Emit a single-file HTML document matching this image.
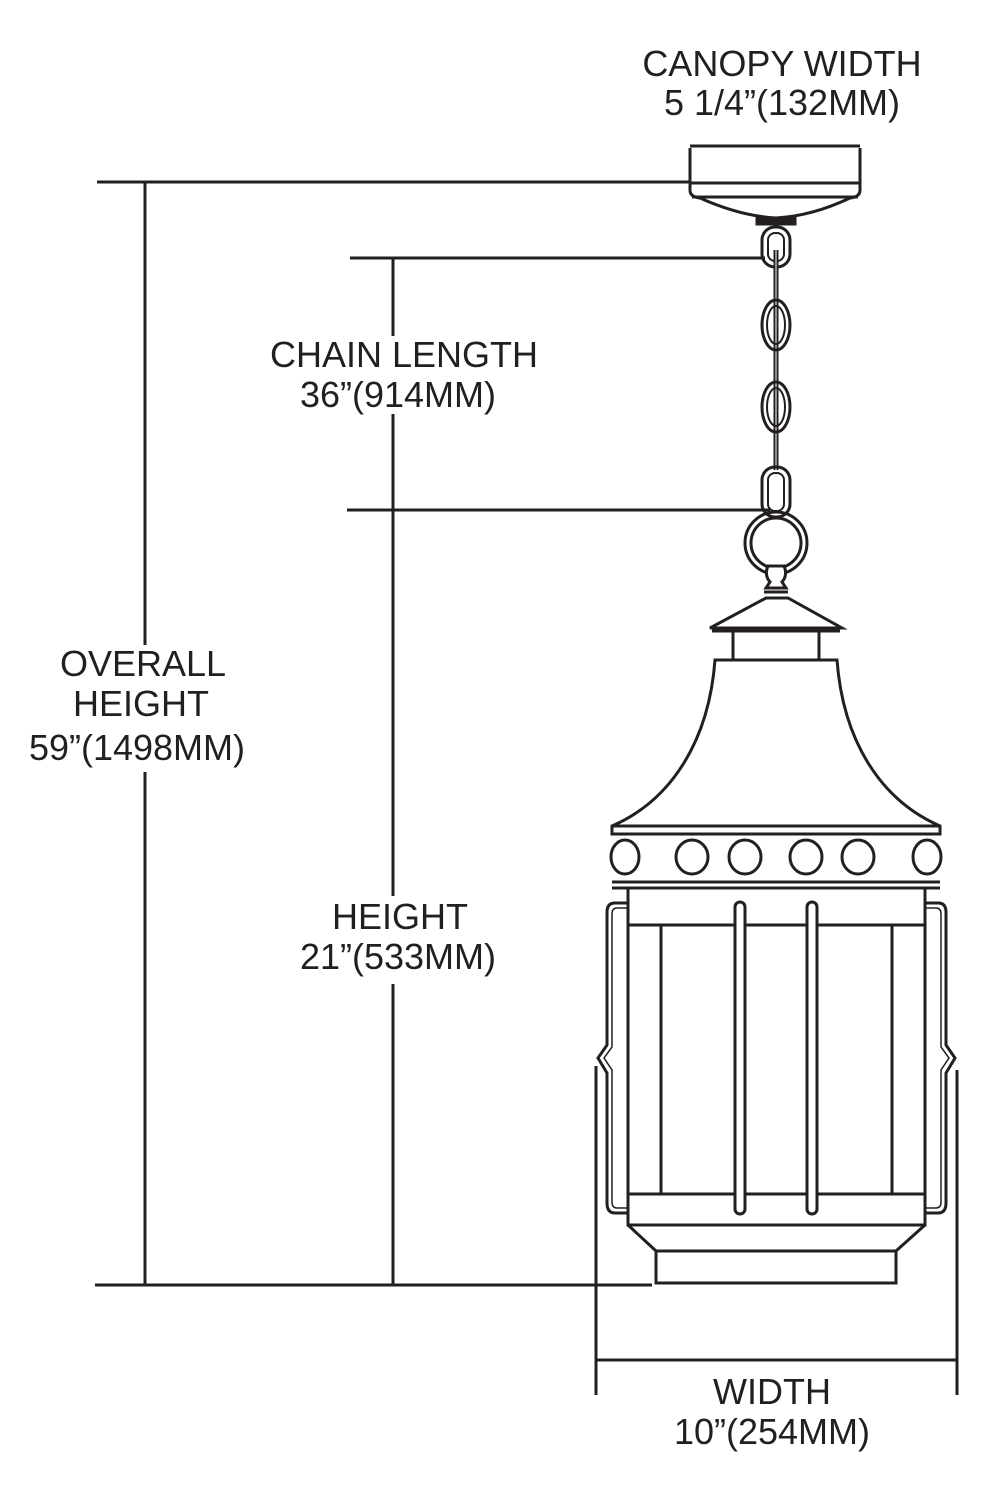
<!DOCTYPE html>
<html><head><meta charset="utf-8"><style>
html,body{margin:0;padding:0;background:#fff}
svg{display:block}
text{font-family:"Liberation Sans",sans-serif;font-size:36px;fill:#231f20;text-anchor:middle}
</style></head><body>
<svg width="990" height="1500" viewBox="0 0 990 1500" xmlns="http://www.w3.org/2000/svg">
<g stroke="#231f20" fill="none" stroke-width="3">
<line x1="97" y1="182" x2="690" y2="182"/>
<line x1="350" y1="258" x2="765" y2="258"/>
<line x1="347" y1="510" x2="770" y2="510"/>
<line x1="95" y1="1285" x2="652" y2="1285"/>
<line x1="145" y1="182" x2="145" y2="645"/>
<line x1="145" y1="772" x2="145" y2="1285"/>
<line x1="393" y1="258" x2="393" y2="336"/>
<line x1="393" y1="414" x2="393" y2="896"/>
<line x1="393" y1="984" x2="393" y2="1285"/>
<line x1="596" y1="1066" x2="596" y2="1395"/>
<line x1="957" y1="1070" x2="957" y2="1395"/>
<line x1="596" y1="1360" x2="957" y2="1360"/>
<!-- canopy -->
<path d="M690,148 V190 Q690,197 700,198 Q740,216 776,218 Q812,216 850,198 Q860,197 860,190 V148"/>
<line x1="690" y1="146" x2="860" y2="146"/>
<line x1="690" y1="183" x2="860" y2="183"/>
<line x1="692" y1="197" x2="858" y2="197"/>
<rect x="757" y="218" width="38" height="6" fill="#231f20"/>
<!-- chain -->
<rect x="762" y="227" width="28" height="40" rx="13"/>
<rect x="768" y="233" width="16" height="28" rx="7" stroke-width="2"/>
<line x1="776" y1="250" x2="776" y2="470" stroke-width="5"/>
<line x1="776" y1="250" x2="776" y2="470" stroke="#fff" stroke-width="1"/>
<ellipse cx="776" cy="325" rx="14" ry="25"/>
<ellipse cx="776" cy="325" rx="9" ry="19" stroke-width="2"/>
<ellipse cx="776" cy="407" rx="14" ry="25"/>
<ellipse cx="776" cy="407" rx="9" ry="19" stroke-width="2"/>
<rect x="762" y="467" width="28" height="50" rx="13"/>
<rect x="768" y="473" width="16" height="38" rx="7" stroke-width="2"/>
<circle cx="776" cy="543" r="31"/>
<circle cx="776" cy="543" r="25"/>
<path d="M768,566 Q764,575 770,582 L766,588 L786,588 L782,582 Q788,575 784,566 Z" fill="#fff"/>
<line x1="764" y1="592" x2="788" y2="592"/>
<path d="M766,598 L788,598 L842,628 L710,628 Z" fill="#fff"/>
<line x1="712" y1="631" x2="840" y2="631"/>
<line x1="733" y1="631" x2="733" y2="660"/>
<line x1="819" y1="631" x2="819" y2="660"/>
<path d="M715,660 L837,660 C843,740 880,800 940,826 L940,834 L612,834 L612,826 C672,800 709,740 715,660 Z" fill="#fff"/>
<line x1="612" y1="826" x2="940" y2="826"/>
<ellipse cx="692" cy="857" rx="16" ry="17"/>
<ellipse cx="745" cy="857" rx="16" ry="17"/>
<ellipse cx="806" cy="857" rx="16" ry="17"/>
<ellipse cx="858" cy="857" rx="16" ry="17"/>
<ellipse cx="625" cy="857" rx="14" ry="17"/>
<ellipse cx="927" cy="857" rx="14" ry="17"/>
<line x1="612" y1="882" x2="940" y2="882"/>
<line x1="612" y1="888" x2="940" y2="888"/>
<rect x="628" y="888" width="297" height="37"/>
<line x1="628" y1="925" x2="628" y2="1194"/>
<line x1="925" y1="925" x2="925" y2="1194"/>
<line x1="661" y1="925" x2="661" y2="1194"/>
<line x1="892" y1="925" x2="892" y2="1194"/>
<rect x="628" y="1194" width="297" height="31"/>
<path d="M628,1225 L656,1251 L896,1251 L925,1225"/>
<rect x="656" y="1251" width="240" height="32"/>
<rect x="735" y="902" width="10" height="312" rx="5" fill="#fff"/>
<rect x="807" y="902" width="10" height="312" rx="5" fill="#fff"/>
<path d="M628,903 L615,903 Q607,903 607,912 L607,1045 L598,1058 L607,1073 L607,1203 Q607,1213 615,1213 L628,1213"/>
<path d="M628,908 L617,908 Q612,908 612,914 L612,1047 L604,1058 L612,1070 L612,1202 Q612,1208 617,1208 L628,1208" stroke-width="1.5"/>
<path d="M925,903 L938,903 Q946,903 946,912 L946,1045 L955,1058 L946,1073 L946,1203 Q946,1213 938,1213 L925,1213"/>
<path d="M925,908 L936,908 Q941,908 941,914 L941,1047 L949,1058 L941,1070 L941,1202 Q941,1208 936,1208 L925,1208" stroke-width="1.5"/>
</g>
<text x="782" y="76">CANOPY WIDTH</text>
<text x="782" y="115">5 1/4”(132MM)</text>
<text x="404" y="367">CHAIN LENGTH</text>
<text x="398" y="407">36”(914MM)</text>
<text x="143" y="676">OVERALL</text>
<text x="141" y="716">HEIGHT</text>
<text x="137" y="760">59”(1498MM)</text>
<text x="400" y="929">HEIGHT</text>
<text x="398" y="969">21”(533MM)</text>
<text x="772" y="1404">WIDTH</text>
<text x="772" y="1444">10”(254MM)</text>
</svg>
</body></html>
